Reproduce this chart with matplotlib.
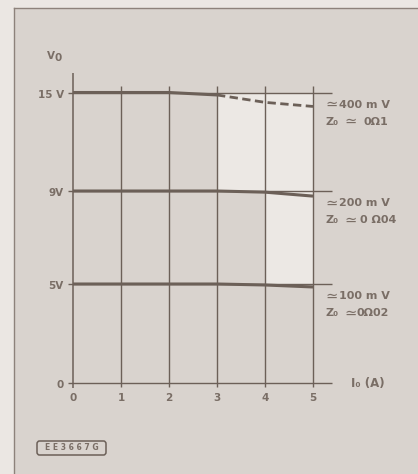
import numpy as np
import matplotlib
matplotlib.use("Agg")
import matplotlib.pyplot as plt
from matplotlib.patches import FancyBboxPatch

# Output current (A) and the three regulated rails
current_ticks = [0, 1, 2, 3, 4, 5]
rail_levels = [0, 5, 9, 15]
rail_labels = ["0", "5V", "9V", "15 V"]

# 15 V rail: solid up to 3 A, dashed beyond
v15_solid_x = [0, 2, 3]
v15_solid_y = [15.0, 15.0, 14.85]
v15_dash_x = [3, 4, 5]
v15_dash_y = [14.85, 14.4, 14.15]
# 9 V rail
v9_x = [0, 3, 4, 5]
v9_y = [9.0, 9.0, 8.95, 8.78]
# 5 V rail
v5_x = [0, 3, 4, 5]
v5_y = [5.0, 5.0, 4.95, 4.85]

notes = [
    ("400 m V", "Z\u2080", "0\u03a91", 15),
    ("200 m V", "Z\u2080", "0 \u03a904", 9),
    ("100 m V", "Z\u2080", "0\u03a902", 5),
]
# where the impedance value starts after its sign (A units)
note_value_x = [6.06, 5.98, 5.9]

BG = "#d9d3ce"
LIGHT = "#ece8e4"
INK = "#6c6058"
TXT = "#7a6e66"
EDGE = "#ebe7e3"

# Schematic (non-linear) voltage axis: rail values -> drawn height
v_pts = np.array([-10, 0, 5, 9, 15, 30], dtype=float)
h_pts = np.array([-198, 0, 99, 192, 290.5, 290.5 + 15 * 16.42])


def fwd(v):
    return np.interp(v, v_pts, h_pts)


def inv(h):
    return np.interp(h, h_pts, v_pts)


W, H = 418, 474
fig = plt.figure(figsize=(W / 100, H / 100), dpi=100)
fig.patch.set_facecolor(EDGE)

# Page frame
frame = fig.add_axes([13.5 / W, 0, 1 - 13.5 / W, 1 - 7.5 / H])
frame.set_facecolor(BG)
frame.set_xticks([])
frame.set_yticks([])
for s in ["right", "bottom"]:
    frame.spines[s].set_visible(False)
for s in ["left", "top"]:
    frame.spines[s].set_color("#8d827b")
    frame.spines[s].set_linewidth(1.0)

ax = fig.add_axes([0, 0, 1, 1])
ax.patch.set_alpha(0)
ax.axis("off")
ax.set_yscale("function", functions=(fwd, inv))
x0_px, px_per_a, y0_px = 73.0, 48.0, 383.0
ax.set_xlim(-x0_px / px_per_a, (W - x0_px) / px_per_a)
ax.set_ylim(inv(-(H - y0_px)), inv(y0_px))

# Light panels
ax.fill_between([3, 5], 9, 15, color=LIGHT, lw=0, zorder=1)
ax.fill_between([4, 5], 5, 9, color=LIGHT, lw=0, zorder=1)

# Grid
x_end = 5.4
ax.vlines(0, inv(-5), inv(310), color=INK, lw=1.1, zorder=2)
ax.vlines(current_ticks[1:], inv(-4), inv(297), color=INK, lw=1.0, zorder=2)
ax.hlines(rail_levels, -0.1, x_end, color=INK, lw=1.0, zorder=2)

# Rail curves
ax.plot(v15_solid_x, v15_solid_y, color=INK, lw=2.2, solid_capstyle="butt", zorder=3)
ax.plot(v15_dash_x, v15_dash_y, color=INK, lw=2.0, dashes=(3, 1.6), zorder=3)
ax.plot(v9_x, v9_y, color=INK, lw=2.2, solid_capstyle="butt", zorder=3)
ax.plot(v5_x, v5_y, color=INK, lw=2.2, solid_capstyle="butt", zorder=3)

fs = 7.5
tkw = dict(fontsize=fs, color=TXT, fontweight="bold")
# Voltage labels
for lv, lab in zip(rail_levels, rail_labels):
    ax.text(-0.19, inv(fwd(lv) - 2), lab, ha="right", va="center", **tkw)
# Current labels
y_lab = inv(y0_px - 398)
for t in current_ticks:
    ax.text(t, y_lab, str(t), ha="center", va="center", **tkw)

# Axis titles
ax.text(-0.46, inv(y0_px - 56), "V", ha="center", va="center", **tkw)
ax.text(-0.31, inv(y0_px - 58), "0", ha="center", va="center", **tkw)
ax.text(5.8, 0, "I\u2080 (A)", ha="left", va="center", fontsize=fs + 1,
        color=TXT, fontweight="bold")

# Ripple / output impedance notes, with a larger "approximately equal" sign
nkw = dict(ha="left", va="center", fontsize=fs + 0.5, color=TXT, fontweight="bold")
skw = dict(ha="left", va="center", fontsize=fs + 3, color=TXT)
for (top, zlab, zval, lv), vx in zip(notes, note_value_x):
    h = fwd(lv)
    y1, y2 = inv(h - 12), inv(h - 29)
    ax.text(5.25, y1, "\u2243", **skw)
    ax.text(5.55, y1, top, **nkw)
    ax.text(5.27, y2, zlab, **nkw)
    ax.text(5.66, y2, "\u2243", **skw)
    ax.text(vx, y2, zval, **nkw)

# Figure reference tag
tag = FancyBboxPatch((37 / W, (H - 455) / H), 69 / W, 14 / H,
                     boxstyle="round,pad=0,rounding_size=0.006",
                     transform=fig.transFigure, fill=False, ec=INK, lw=1.1)
fig.add_artist(tag)
fig.text(71.5 / W, (H - 448) / H, "E E 3 6 6 7 G", ha="center", va="center",
         fontsize=5.5, color=TXT, fontweight="bold")

fig.savefig("out.png", dpi=100, facecolor=fig.get_facecolor())
